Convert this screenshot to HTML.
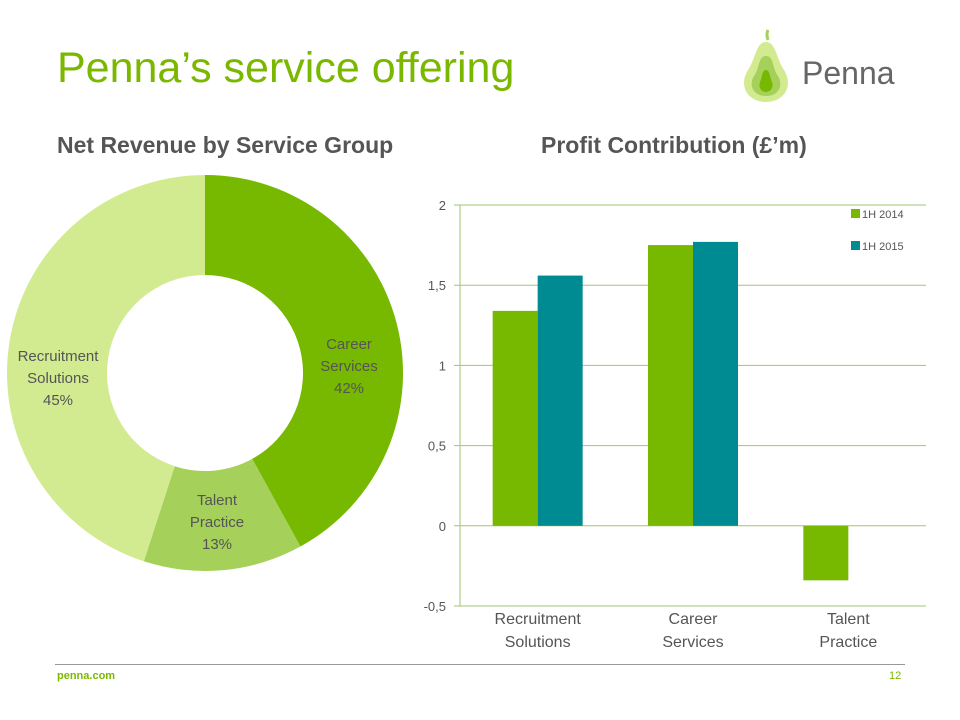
<!DOCTYPE html>
<html><head><meta charset="utf-8"><style>
body{margin:0;width:960px;height:720px;background:#fff;font-family:"Liberation Sans",sans-serif;position:relative;overflow:hidden}
.t{position:absolute;white-space:nowrap}
</style></head><body>
<div class="t" style="left:57px;top:44px;font-size:43px;color:#7ab800">Penna’s service offering</div>
<svg style="position:absolute;left:738px;top:28px" width="170" height="76">
<path d="M30 12 Q28 6 30 2" stroke="#a5d05a" stroke-width="3" fill="none"/>
<path d="M28 14 C18 14 18 30 10 42 C0 58 10 74 28 74 C46 74 56 58 46 42 C38 30 38 14 28 14Z" fill="#d2eb91"/>
<path d="M28 28 C20 28 22 40 16 48 C10 58 16 68 28 68 C40 68 46 58 40 48 C34 40 36 28 28 28Z" fill="#a5d05a"/>
<path d="M28 42 C24 42 24 50 22 54 C20 60 24 64 28 64 C32 64 36 60 34 54 C32 50 32 42 28 42Z" fill="#77b800"/>
<text x="64" y="56" font-family="Liberation Sans,sans-serif" font-size="32" fill="#666">Penna</text>
</svg>
<div class="t" style="left:57px;top:132px;font-size:23px;font-weight:bold;color:#555">Net Revenue by Service Group</div>
<div class="t" style="left:541px;top:132px;font-size:23px;font-weight:bold;color:#555">Profit Contribution (£’m)</div>
<svg id="donut" style="position:absolute;left:0;top:0" width="420" height="600"></svg>
<svg id="bars" style="position:absolute;left:0;top:0" width="960" height="660"></svg>
<div style="position:absolute;left:55px;top:664px;width:850px;height:1px;background:#999"></div>
<div class="t" style="left:57px;top:670px;font-size:11px;color:#7ab800;font-weight:bold">penna.com</div>
<div class="t" style="left:889px;top:670px;font-size:11px;color:#7ab800">12</div>
<script>
const sliceLabels=[["Career","Services","42%"],["Talent","Practice","13%"],["Recruitment","Solutions","45%"]];
const sliceValues=[42,13,45];
const sliceColors=["#77b800","#a5d05a","#d2eb91"];
const labelOffsets=[[144,-7],[12,149],[-147,5]];
const categories=[["Recruitment","Solutions"],["Career","Services"],["Talent","Practice"]];
const series2014=[1.34,1.75,-0.34];
const series2015=[1.56,1.77,0];
const yTicks=[2,1.5,1,0.5,0,-0.5];
const yTickLabels=["2","1,5","1","0,5","0","-0,5"];
const seriesNames=["1H 2014","1H 2015"];
const NS="http://www.w3.org/2000/svg";
function mk(p,t,a){const e=document.createElementNS(NS,t);for(const k in a)e.setAttribute(k,a[k]);p.appendChild(e);return e;}
const d=document.getElementById('donut');const cx=205,cy=373,R=198,r=98;
const tot=sliceValues.reduce((a,b)=>a+b,0);let a0=0;
sliceValues.forEach((v,i)=>{const a1=a0+v/tot*2*Math.PI;
const P=(rad,a)=>[cx+rad*Math.sin(a),cy-rad*Math.cos(a)];
const [x1,y1]=P(R,a0),[x2,y2]=P(R,a1),[x3,y3]=P(r,a1),[x4,y4]=P(r,a0);const lg=(a1-a0)>Math.PI?1:0;
const p=mk(d,'path',{d:`M${x1} ${y1}A${R} ${R} 0 ${lg} 1 ${x2} ${y2}L${x3} ${y3}A${r} ${r} 0 ${lg} 0 ${x4} ${y4}Z`,fill:sliceColors[i]});


const lx=cx+labelOffsets[i][0],ly=cy+labelOffsets[i][1];
const t=mk(d,'text',{x:lx,y:ly-17,'text-anchor':'middle','font-size':15,fill:'#555','font-family':'Liberation Sans,sans-serif'});


sliceLabels[i].forEach((s,j)=>{const ts=mk(t,'tspan',{x:lx,dy:j?22:0});ts.textContent=s;});
a0=a1;});
const b=document.getElementById('bars');const X0=460,X1=926,yTop=205,yBot=606;
const yv=v=>yTop+(2-v)*(yBot-yTop)/2.5;const cw=(X1-X0)/categories.length,bw=45;
yTicks.forEach((v,i)=>{const l=mk(b,'line',{x1:X0-6,x2:X1,y1:yv(v),y2:yv(v),stroke:'#a3c373','stroke-width':1});


const t=mk(b,'text',{x:X0-14,y:yv(v)+5,'text-anchor':'end','font-size':13,fill:'#555','font-family':'Liberation Sans,sans-serif'});t.textContent=yTickLabels[i];

});
mk(b,'line',{x1:X0,x2:X0,y1:yTop,y2:yBot,stroke:'#a3c373'});
const cols=["#77b800","#008b93"];
categories.forEach((c,i)=>{const cx=X0+cw*(i+0.5);
[series2014[i],series2015[i]].forEach((v,j)=>{if(!v)return;const y0=yv(0),y1=yv(v);
const rc=mk(b,'rect',{x:cx-bw+j*bw,y:Math.min(y0,y1),width:bw,height:Math.abs(y1-y0),fill:cols[j]});

});
const t=mk(b,'text',{x:cx,y:624,'text-anchor':'middle','font-size':16,fill:'#555','font-family':'Liberation Sans,sans-serif'});


c.forEach((s,j)=>{const ts=mk(t,'tspan',{x:cx,dy:j?23:0});ts.textContent=s;});});
seriesNames.forEach((n,j)=>{const g=mk(b,'g',{});


mk(g,'rect',{x:851,y:209+j*32,width:9,height:9,fill:cols[j]});
const t=mk(g,'text',{x:862,y:218+j*32,'font-size':11,fill:'#555','font-family':'Liberation Sans,sans-serif'});t.textContent=n;});
</script>
</body></html>
